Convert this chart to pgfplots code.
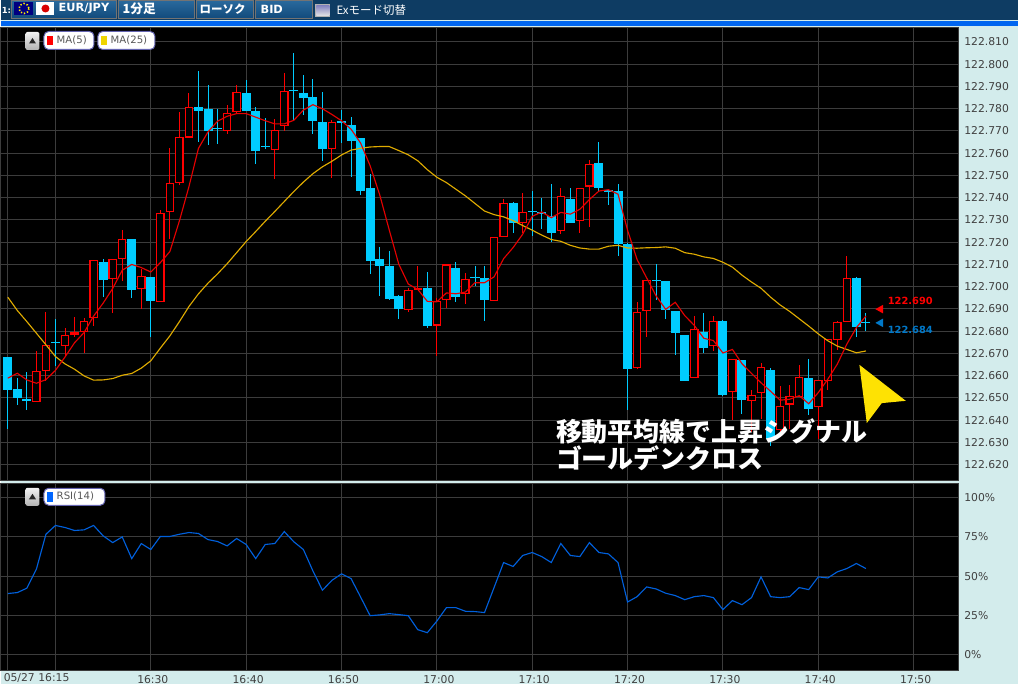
\documentclass[border=0pt]{standalone}
\usepackage{pgfplots}
\usepackage{pgfplotstable}
\pgfplotsset{compat=1.18}
\usepackage{fontspec}
\setmainfont{DejaVu Sans}
\newfontfamily\cjk{Noto Sans CJK JP}

\definecolor{panel}{HTML}{D3ECEC}
\definecolor{gridc}{HTML}{3C3C3C}
\definecolor{cand}{HTML}{00CCFF}
\definecolor{candred}{HTML}{FF0000}
\definecolor{ma5}{HTML}{E60000}
\definecolor{ma25}{HTML}{E0AC00}
\definecolor{rsi}{HTML}{0060DC}
\definecolor{btop}{HTML}{2A6A9E}
\definecolor{bbot}{HTML}{124B7C}
\definecolor{bidblue}{HTML}{0078C8}

% candles: minute since 16:15, open, high, low, close
\pgfplotstableread{
x o h l c
0 122.669 122.669 122.637 122.654
1 122.654 122.660 122.648 122.650
2 122.650 122.663 122.646 122.649
5 122.675 122.686 122.665 122.675
10 122.712 122.713 122.696 122.704
13 122.722 122.722 122.696 122.699
15 122.705 122.705 122.678 122.694
20 122.782 122.798 122.766 122.780
21 122.781 122.791 122.764 122.771
22 122.771 122.781 122.765 122.771
25 122.788 122.794 122.780 122.780
26 122.781 122.782 122.756 122.763
27 122.763 122.777 122.763 122.763
30 122.788 122.807 122.777 122.788
31 122.788 122.795 122.777 122.786
32 122.786 122.794 122.769 122.775
33 122.775 122.789 122.758 122.763
35 122.775 122.781 122.766 122.774
36 122.774 122.778 122.751 122.767
37 122.768 122.768 122.742 122.744
38 122.745 122.751 122.706 122.712
39 122.713 122.718 122.696 122.710
40 122.710 122.717 122.695 122.695
41 122.696 122.697 122.686 122.690
44 122.700 122.708 122.683 122.683
47 122.710 122.711 122.693 122.697
49 122.704 122.711 122.702 122.704
50 122.704 122.711 122.686 122.694
53 122.738 122.738 122.724 122.729
55 122.734 122.744 122.724 122.734
56 122.734 122.740 122.726 122.733
57 122.733 122.746 122.720 122.725
59 122.741 122.745 122.730 122.730
62 122.755 122.766 122.744 122.744
63 122.745 122.745 122.738 122.744
64 122.744 122.746 122.714 122.720
65 122.720 122.720 122.645 122.664
68 122.703 122.711 122.695 122.703
69 122.703 122.703 122.686 122.690
70 122.690 122.690 122.671 122.680
71 122.680 122.680 122.659 122.659
73 122.681 122.689 122.671 122.674
75 122.685 122.686 122.652 122.652
77 122.667 122.667 122.643 122.649
80 122.664 122.664 122.629 122.633
84 122.660 122.668 122.643 122.646
89 122.705 122.705 122.678 122.683
90 122.684 122.688 122.680 122.684
}\candown

\pgfplotstableread{
x o h l c
3 122.649 122.671 122.649 122.663
4 122.663 122.690 122.659 122.675
6 122.675 122.682 122.669 122.680
7 122.680 122.687 122.678 122.681
8 122.681 122.687 122.671 122.686
9 122.686 122.712 122.683 122.712
11 122.704 122.713 122.689 122.713
12 122.713 122.726 122.703 122.722
14 122.699 122.708 122.690 122.705
16 122.694 122.735 122.694 122.734
17 122.734 122.763 122.722 122.747
18 122.747 122.779 122.746 122.768
19 122.768 122.788 122.768 122.782
23 122.771 122.783 122.770 122.779
24 122.779 122.792 122.779 122.788
28 122.763 122.775 122.748 122.772
29 122.772 122.796 122.770 122.788
34 122.763 122.775 122.749 122.775
42 122.690 122.701 122.690 122.699
43 122.699 122.710 122.699 122.700
45 122.683 122.696 122.670 122.694
46 122.694 122.710 122.691 122.710
48 122.697 122.706 122.692 122.704
51 122.694 122.723 122.694 122.723
52 122.723 122.740 122.723 122.738
54 122.729 122.743 122.725 122.734
58 122.725 122.746 122.725 122.741
60 122.730 122.745 122.725 122.745
61 122.745 122.757 122.727 122.755
66 122.664 122.694 122.664 122.689
67 122.689 122.703 122.678 122.703
72 122.659 122.687 122.659 122.681
74 122.674 122.688 122.672 122.685
76 122.652 122.667 122.641 122.667
78 122.649 122.654 122.635 122.652
79 122.652 122.667 122.642 122.664
81 122.636 122.657 122.634 122.647
82 122.647 122.657 122.637 122.651
83 122.651 122.665 122.651 122.660
85 122.646 122.658 122.633 122.658
86 122.658 122.677 122.654 122.677
87 122.677 122.685 122.672 122.685
88 122.685 122.715 122.685 122.705
}\canup

% doji crosses
\pgfplotstableread{
x y
5 122.675
22 122.771
27 122.763
30 122.788
49 122.704
55 122.734
68 122.703
90 122.684
}\doji

\pgfplotstableread{
x ma5 ma25 rsi
0 122.6589 122.6953 38.9
1 122.6611 122.6893 39.5
2 122.6581 122.6843 42.3
3 122.6566 122.6791 54.4
4 122.6582 122.6739 76.6
5 122.6624 122.6686 82.2
6 122.6684 122.6653 80.9
7 122.6748 122.6629 79.0
8 122.6794 122.6599 79.4
9 122.6868 122.6580 82.2
10 122.6926 122.6581 75.6
11 122.6992 122.6587 71.3
12 122.7074 122.6602 74.9
13 122.7100 122.6610 61.1
14 122.7086 122.6634 70.7
15 122.7066 122.6667 66.9
16 122.7108 122.6724 75.2
17 122.7158 122.6779 75.2
18 122.7296 122.6843 76.6
19 122.7450 122.6911 77.7
20 122.7622 122.6968 77.1
21 122.7696 122.7016 73.2
22 122.7744 122.7058 72.0
23 122.7766 122.7103 69.2
24 122.7778 122.7153 73.9
25 122.7778 122.7203 70.1
26 122.7762 122.7248 61.1
27 122.7746 122.7294 70.1
28 122.7732 122.7338 70.7
29 122.7732 122.7383 78.3
30 122.7748 122.7428 71.8
31 122.7794 122.7470 66.9
32 122.7818 122.7508 53.3
33 122.7800 122.7539 41.0
34 122.7774 122.7564 47.3
35 122.7746 122.7592 51.4
36 122.7708 122.7614 48.4
37 122.7646 122.7622 36.7
38 122.7544 122.7628 24.8
39 122.7414 122.7630 25.3
40 122.7256 122.7630 26.1
41 122.7102 122.7612 25.5
42 122.7012 122.7593 24.8
43 122.6988 122.7566 15.9
44 122.6934 122.7526 14.0
45 122.6932 122.7492 21.4
46 122.6972 122.7468 29.9
47 122.6968 122.7438 29.9
48 122.6976 122.7408 27.6
49 122.7018 122.7374 27.4
50 122.7018 122.7340 26.8
51 122.7044 122.7324 42.7
52 122.7126 122.7314 58.6
53 122.7176 122.7297 56.1
54 122.7236 122.7275 63.1
55 122.7316 122.7254 65.0
56 122.7336 122.7232 62.4
57 122.7310 122.7212 58.6
58 122.7334 122.7204 70.7
59 122.7326 122.7186 63.1
60 122.7348 122.7174 62.4
61 122.7392 122.7169 71.3
62 122.7430 122.7169 65.0
63 122.7436 122.7182 64.1
64 122.7416 122.7186 58.6
65 122.7254 122.7174 33.5
66 122.7122 122.7173 36.9
67 122.7040 122.7175 43.1
68 122.6958 122.7176 41.8
69 122.6898 122.7179 39.1
70 122.6930 122.7173 37.6
71 122.6870 122.7153 35.0
72 122.6826 122.7146 36.9
73 122.6768 122.7134 37.6
74 122.6758 122.7127 36.3
75 122.6702 122.7110 28.7
76 122.6718 122.7088 34.4
77 122.6654 122.7052 31.8
78 122.6610 122.7021 36.3
79 122.6568 122.6993 49.5
80 122.6530 122.6953 36.9
81 122.6490 122.6918 36.3
82 122.6494 122.6889 36.9
83 122.6510 122.6856 42.7
84 122.6474 122.6823 41.4
85 122.6524 122.6788 49.5
86 122.6584 122.6757 48.8
87 122.6652 122.6733 52.7
88 122.6742 122.6718 54.8
89 122.6816 122.6703 58.0
90 122.6868 122.6711 54.8
}\lines

\pgfplotsset{
  panel/.style={
    at={(0pt,#1)}, anchor=north west,
    scale only axis, width=719.0pt,
    xmin=-0.765, xmax=99.73,
    axis background/.style={fill=black},
    axis line style={draw=gridc, line width=.75pt},
    grid=major, grid style={draw=gridc, line width=.75pt},
    major tick length=0pt,
    xtick={0,5,15,25,35,45,55,65,75,85,95},
    yticklabel pos=right,
    tick label style={font=\fontsize{8.1}{10}\selectfont, text=black!75},
    yticklabel style={xshift=.7pt},
    /pgf/number format/assume math mode=true,
  },
  wick/.style={draw=none, mark=none, forget plot, error bars/.cd, y dir=both, y explicit, error mark=none,
    error bar style={draw=#1, line width=.75pt}},
  body/.style 2 args={draw=none, mark=none, forget plot, error bars/.cd, y dir=both, y explicit, error mark=none,
    error bar style={draw=#1, line width=#2}},
}

\begin{document}
\begin{tikzpicture}
\begin{scope}[x=.75pt, y=-.75pt]
\path[use as bounding box] (0,0) rectangle (1018,684);
\fill[panel] (0,0) rectangle (1018,684);
% toolbar
\fill[bbot!80!black] (0,0) rectangle (1018,20);
\fill[panel] (0,20) rectangle (1018,21.5);
\fill[black!10!blue!60!cyan] (0,21.5) rectangle (1018,25.7);
\foreach \a/\b in {10.5/115.5,117.5/194,196/253,255.5/312}{
  \shade[top color=btop, bottom color=bbot] (\a,0) rectangle (\b,18);
  \draw[black!55, line width=.6pt] (\a,0) rectangle (\b,18);
}
\fill[blue!50!black] (14,2) rectangle (33,15);
\draw[yellow, line width=1.2pt, dash pattern=on 1pt off 1.4pt] (23.5,8.5) circle (5);
\fill[white] (36,2) rectangle (54,15);
\fill[red!85!black] (45,8.5) circle (4);
\fill[black!30!white] (315,4) rectangle (330,17);
\shade[top color=black!50!blue!50!white, bottom color=black!10] (316,5) rectangle (329,16);
\begin{scope}[every node/.style={anchor=west, inner sep=0pt, text=white}]
\node at (1,10) {\fontsize{6.3}{8}\selectfont\bfseries 1:};
\node at (58,9) {\fontsize{8.5}{10}\selectfont\bfseries EUR/JPY};
\node at (122,9) {\fontsize{9.5}{11}\selectfont\cjk\bfseries 1分足};
\node at (199,9) {\fontsize{8.6}{11}\selectfont\cjk\bfseries ローソク};
\node at (260,9) {\fontsize{8.5}{10}\selectfont\bfseries BID};
\node at (336,10) {\fontsize{8.6}{11}\selectfont\cjk Exモード切替};
\end{scope}
\end{scope}

\begin{axis}[panel=-20.475pt, height=340.05pt,
  ymin=122.6129, ymax=122.8166,
  ytick={122.62,122.63,122.64,122.65,122.66,122.67,122.68,122.69,122.70,122.71,122.72,122.73,122.74,122.75,122.76,122.77,122.78,122.79,122.80,122.81},
  xticklabels={},
  yticklabel style={/pgf/number format/.cd, fixed, fixed zerofill, precision=3, 1000 sep={}},
]
\addplot[wick=cand] table[x=x, y expr=(\thisrow{h}+\thisrow{l})/2, y error expr=(\thisrow{h}-\thisrow{l})/2] {\candown};
\addplot[body={cand}{6.75pt}] table[x=x, y expr=(\thisrow{o}+\thisrow{c})/2, y error expr=(\thisrow{o}-\thisrow{c})/2] {\candown};
\addplot[only marks, mark=-, mark size=3.4pt, mark options={draw=cand, line width=.75pt}, forget plot] table[x=x, y=y] {\doji};
\addplot[wick=candred] table[x=x, y expr=(\thisrow{h}+\thisrow{l})/2, y error expr=(\thisrow{h}-\thisrow{l})/2] {\canup};
\addplot[body={candred}{6.4pt}] table[x=x, y expr=(\thisrow{o}+\thisrow{c})/2, y error expr=(\thisrow{c}-\thisrow{o})/2] {\canup};
\addplot[body={black}{4.5pt}] table[x=x, y expr=(\thisrow{o}+\thisrow{c})/2, y error expr=(\thisrow{c}-\thisrow{o})/2-0.0005] {\canup};
\addplot[ma25, line width=.85pt, mark=none] table[x=x, y=ma25] {\lines};
\addplot[ma5, line width=.85pt, mark=none] table[x=x, y=ma5] {\lines};
\end{axis}

\begin{axis}[panel=-362.775pt, height=140.5pt,
  ymin=-10.2, ymax=108.9,
  ytick={0,25,50,75,100},
  yticklabel={\pgfmathprintnumber{\tick}\%},
  xticklabels={,,16:30,16:40,16:50,17:00,17:10,17:20,17:30,17:40,17:50},
  xticklabel style={yshift=-.4pt, xshift=1.5pt},
]
\addplot[rsi, line width=.85pt, mark=none] table[x=x, y=rsi] {\lines};
\end{axis}

\begin{scope}[x=.75pt, y=-.75pt]
\node[anchor=west, inner sep=0pt, text=black!75, font=\fontsize{8.1}{10}\selectfont] at (3,678) {05/27 16:15};

% legend chips
\foreach \y in {32,488}{
  \shade[rounded corners=1.5pt, top color=black!5, bottom color=black!30] (25,\y) rectangle (39,\y+18);
  \fill[black!85] (32,\y+6) -- (35.5,\y+11.5) -- (28.5,\y+11.5) -- cycle;
}
\filldraw[fill=white, draw=blue!50!black!60!white, line width=.75pt, rounded corners=3.5pt] (43.5,31.5) rectangle (93.5,49.5);
\filldraw[fill=white, draw=blue!50!black!60!white, line width=.75pt, rounded corners=3.5pt] (97.5,31.5) rectangle (154.5,49.5);
\filldraw[fill=white, draw=blue!50!black!60!white, line width=.75pt, rounded corners=3.5pt] (43.5,488.5) rectangle (104.5,505.5);
\fill[red] (47,36) rectangle (53,45);
\fill[ma25!50!yellow] (101,36) rectangle (107,45);
\fill[blue!60!cyan] (47,492.5) rectangle (53,502);
\begin{scope}[every node/.style={anchor=west, inner sep=0pt, text=black!65, font=\fontsize{7.6}{9}\selectfont}]
\node at (56,40.5) {MA(5)};
\node at (110,40.5) {MA(25)};
\node at (56,497) {RSI(14)};
\end{scope}

% current price
\fill[red] (875.3,309.3) -- (883,305) -- (883,313.6) -- cycle;
\fill[bidblue] (875.3,323) -- (883,318.7) -- (883,327.3) -- cycle;
\node[anchor=west, inner sep=0pt, text=red, font=\fontsize{7.4}{9}\selectfont\bfseries] at (887.5,301.5) {122.690};
\node[anchor=west, inner sep=0pt, text=bidblue, font=\fontsize{7.4}{9}\selectfont\bfseries] at (887.5,329.7) {122.684};

% annotation
\fill[yellow!85!orange] (859.3,365) -- (905.7,401) -- (881.7,403.3) -- (866.7,423.3) -- cycle;
\node[anchor=west, inner sep=0pt, text=white, font=\fontsize{19.5}{22}\selectfont\cjk\bfseries] at (555.5,431.7) {移動平均線で上昇シグナル};
\node[anchor=west, inner sep=0pt, text=white, font=\fontsize{19.5}{22}\selectfont\cjk\bfseries] at (555.5,458) {ゴールデンクロス};
\end{scope}
\end{tikzpicture}
\end{document}
